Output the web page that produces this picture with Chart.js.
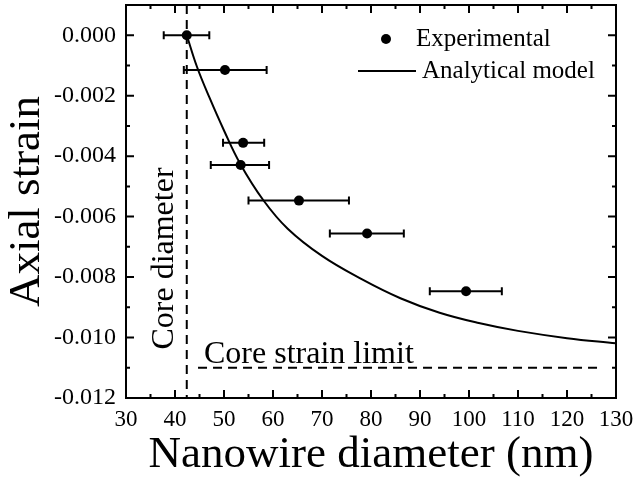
<!DOCTYPE html>
<html>
<head>
<meta charset="utf-8">
<script src="https://cdn.jsdelivr.net/npm/chart.js@4"></script>
<style>
  body { margin: 0; background: #fff; }
  canvas { display: block; }
</style>
</head>
<body>
<canvas id="strainChart" width="636" height="478"></canvas>
<script>
// measured nanowires: mean diameter, diameter spread, axial strain
const expDiameter = [42.4, 50.2, 53.9, 53.4, 65.3, 79.2, 99.4];
const expDiameterLow = [37.7, 41.8, 49.8, 47.3, 55.0, 71.6, 92.0];
const expDiameterHigh = [47.0, 58.7, 58.2, 59.2, 75.5, 86.7, 106.7];
const expStrain = [0.0, -0.00115, -0.00356, -0.00429, -0.00547, -0.00656, -0.00847];

// analytical model curve
const modelDiameter = [42.4, 44.5, 47, 50, 53.3, 58, 63, 70, 78, 86, 94, 102, 110, 120, 130];
const modelStrain = [0.0, -0.00105, -0.00205, -0.00315, -0.00425, -0.00545, -0.00640, -0.00730, -0.00806, -0.00870, -0.00918, -0.00952, -0.00978, -0.01002, -0.01019];

// reference lines
const coreDiameter = 42.4;
const coreStrainLimit = -0.011;
const limitRange = [44.7, 126.5];

const xTicks = [30, 40, 50, 60, 70, 80, 90, 100, 110, 120, 130];
const xMinorTicks = [35, 45, 55, 65, 75, 85, 95, 105, 115, 125];
const yTicks = [-0.012, -0.010, -0.008, -0.006, -0.004, -0.002, 0.000];
const yMinorTicks = [-0.011, -0.009, -0.007, -0.005, -0.003, -0.001];

const SERIF = '"Liberation Serif", "Times New Roman", serif';

const errorBars = {
  id: 'errorBars',
  beforeDatasetsDraw(chart) {
    const { ctx, scales: { x, y } } = chart;
    ctx.save();
    ctx.strokeStyle = '#000';
    ctx.lineWidth = 2;
    expDiameter.forEach((d, i) => {
      const py = y.getPixelForValue(expStrain[i]);
      const x0 = x.getPixelForValue(expDiameterLow[i]);
      const x1 = x.getPixelForValue(expDiameterHigh[i]);
      ctx.beginPath();
      ctx.moveTo(x0, py); ctx.lineTo(x1, py);
      ctx.moveTo(x0, py - 4); ctx.lineTo(x0, py + 4);
      ctx.moveTo(x1, py - 4); ctx.lineTo(x1, py + 4);
      ctx.stroke();
    });
    ctx.restore();
  }
};

// box frame with inward ticks on all four sides
const frameTicks = {
  id: 'frameTicks',
  afterDraw(chart) {
    const { ctx, chartArea: a, scales: { x, y } } = chart;
    ctx.save();
    ctx.strokeStyle = '#000';
    ctx.lineWidth = 2;
    ctx.strokeRect(a.left, a.top, a.right - a.left, a.bottom - a.top);
    ctx.beginPath();
    const tickX = (v, len) => {
      const px = x.getPixelForValue(v);
      ctx.moveTo(px, a.bottom); ctx.lineTo(px, a.bottom - len);
      ctx.moveTo(px, a.top); ctx.lineTo(px, a.top + len);
    };
    const tickY = (v, len) => {
      const py = y.getPixelForValue(v);
      ctx.moveTo(a.left, py); ctx.lineTo(a.left + len, py);
      ctx.moveTo(a.right, py); ctx.lineTo(a.right - len, py);
    };
    xTicks.forEach(v => tickX(v, 8));
    xMinorTicks.forEach(v => tickX(v, 4));
    yTicks.forEach(v => tickY(v, 8));
    yMinorTicks.forEach(v => tickY(v, 4));
    ctx.stroke();
    ctx.restore();
  }
};

// in-plot legend and line labels
const labels = {
  id: 'labels',
  afterDraw(chart) {
    const { ctx, chartArea: a, scales: { x, y } } = chart;
    ctx.save();
    ctx.fillStyle = '#000';
    ctx.strokeStyle = '#000';

    ctx.font = '25px ' + SERIF;
    ctx.textBaseline = 'middle';
    ctx.textAlign = 'left';
    ctx.beginPath();
    ctx.arc(a.right - 230, a.top + 34, 5, 0, Math.PI * 2);
    ctx.fill();
    ctx.fillText('Experimental', a.right - 200, a.top + 34);
    ctx.lineWidth = 2;
    ctx.beginPath();
    ctx.moveTo(a.right - 258, a.top + 66);
    ctx.lineTo(a.right - 200, a.top + 66);
    ctx.stroke();
    ctx.fillText('Analytical model', a.right - 194, a.top + 66);

    ctx.font = '32px ' + SERIF;
    ctx.textBaseline = 'alphabetic';
    ctx.fillText('Core strain limit', x.getPixelForValue(limitRange[0]) + 6, y.getPixelForValue(coreStrainLimit) - 5);

    ctx.translate(x.getPixelForValue(coreDiameter) - 14, (a.top + a.bottom) / 2 + 57);
    ctx.rotate(-Math.PI / 2);
    ctx.textAlign = 'center';
    ctx.fillText('Core diameter', 0, 0);
    ctx.restore();
  }
};

const toPoints = (xs, ys) => xs.map((v, i) => ({ x: v, y: ys[i] }));

// keep the plot box where it is: no extra room for edge tick labels
const noEdgePadding = (scale) => {
  scale.paddingTop = 0;
  scale.paddingBottom = 0;
  scale.paddingLeft = 0;
  scale.paddingRight = 0;
};

new Chart(document.getElementById('strainChart'), {
  type: 'scatter',
  data: {
    datasets: [
      {
        label: 'Experimental',
        data: toPoints(expDiameter, expStrain),
        backgroundColor: '#000',
        borderColor: '#000',
        pointRadius: 5,
        pointBorderWidth: 0
      },
      {
        label: 'Analytical model',
        data: toPoints(modelDiameter, modelStrain),
        showLine: true,
        borderColor: '#000',
        borderWidth: 2,
        pointRadius: 0,
        tension: 0.4
      },
      {
        label: 'Core diameter',
        data: [{ x: coreDiameter, y: 0.001 }, { x: coreDiameter, y: -0.012 }],
        showLine: true,
        borderColor: '#000',
        borderWidth: 2,
        borderDash: [9, 6],
        pointRadius: 0
      },
      {
        label: 'Core strain limit',
        data: [{ x: limitRange[0], y: coreStrainLimit }, { x: limitRange[1], y: coreStrainLimit }],
        showLine: true,
        borderColor: '#000',
        borderWidth: 2,
        borderDash: [9, 6],
        pointRadius: 0
      }
    ]
  },
  options: {
    responsive: false,
    devicePixelRatio: 1,
    animation: false,
    layout: { padding: { top: 4, right: 20, left: 0, bottom: 0 } },
    plugins: {
      legend: { display: false },
      tooltip: { enabled: false }
    },
    scales: {
      x: {
        type: 'linear',
        min: 30,
        max: 130,
        grid: { display: false, drawTicks: false },
        border: { display: false },
        afterBuildTicks: (scale) => { scale.ticks = xTicks.map(v => ({ value: v })); },
        afterFit: (scale) => { scale.height = 80; noEdgePadding(scale); },
        ticks: {
          autoSkip: false,
          maxRotation: 0,
          padding: 8,
          color: '#000',
          font: { family: SERIF, size: 23 }
        },
        title: {
          display: true,
          text: 'Nanowire diameter (nm)',
          color: '#000',
          padding: 0,
          font: { family: SERIF, size: 45, lineHeight: 1 }
        }
      },
      y: {
        type: 'linear',
        min: -0.012,
        max: 0.001,
        grid: { display: false, drawTicks: false },
        border: { display: false },
        afterBuildTicks: (scale) => { scale.ticks = yTicks.map(v => ({ value: v })); },
        afterFit: (scale) => { scale.width = 126; noEdgePadding(scale); },
        ticks: {
          autoSkip: false,
          padding: 10,
          color: '#000',
          font: { family: SERIF, size: 24 },
          callback: (value) => value.toFixed(3)
        },
        title: {
          display: true,
          text: 'Axial strain',
          color: '#000',
          padding: { top: 5 },
          font: { family: SERIF, size: 45, lineHeight: 1 }
        }
      }
    }
  },
  plugins: [errorBars, frameTicks, labels]
});
</script>
</body>
</html>
